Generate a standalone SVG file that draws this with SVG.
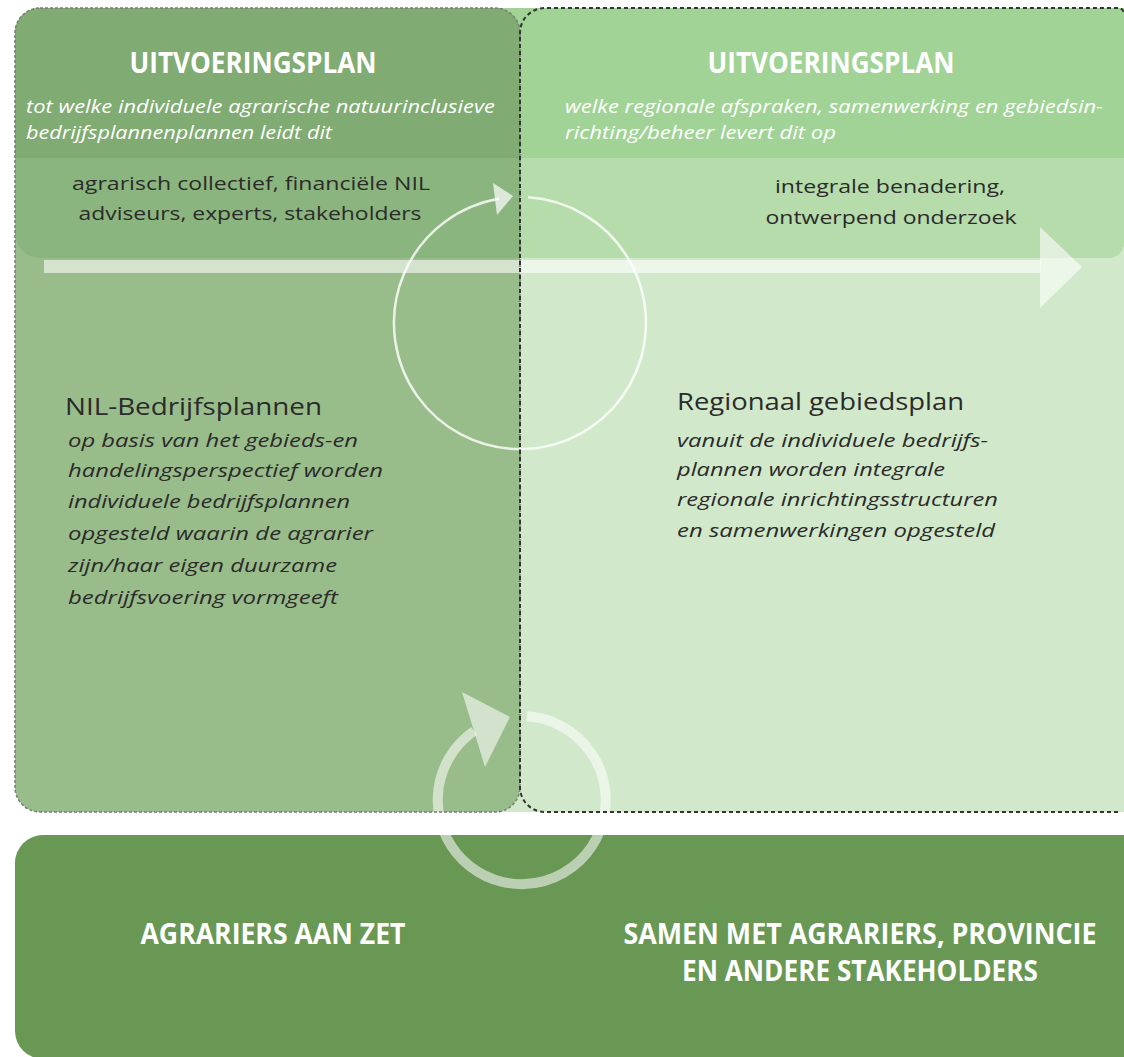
<svg xmlns="http://www.w3.org/2000/svg" width="1124" height="1057" viewBox="0 0 1124 1057">
  <defs>
    <style>
      .hdr { font-family: "Open Sans", "Liberation Sans", sans-serif; font-weight: 700; font-size: 29px; fill: #ffffff; }
      .sub { font-family: "Open Sans", "Liberation Sans", sans-serif; font-style: italic; font-size: 18px; fill: #ffffff; }
      .who { font-family: "Open Sans", "Liberation Sans", sans-serif; font-size: 18px; fill: #2b2b2b; }
      .ttl { font-family: "Open Sans", "Liberation Sans", sans-serif; font-size: 24px; fill: #2b2b2b; }
      .body { font-family: "Open Sans", "Liberation Sans", sans-serif; font-style: italic; font-size: 18px; fill: #2b2b2b; }
      .foot { font-family: "Open Sans", "Liberation Sans", sans-serif; font-weight: 700; font-size: 28px; fill: #ffffff; }
    </style>
    <clipPath id="leftClip">
      <path d="M40,8 H495 A25,25 0 0 1 520,33 V787 A25,25 0 0 1 495,812 H40 A25,25 0 0 1 15,787 V33 A25,25 0 0 1 40,8 Z"/>
    </clipPath>
    <clipPath id="gapClip">
      <rect x="0" y="0" width="1124" height="813"/>
      <rect x="0" y="835" width="1124" height="222"/>
    </clipPath>
  </defs>

  <!-- Right panel (regional) -->
  <g id="node-right-panel">
    <rect x="480" y="8" width="644" height="804" fill="#d1e9ca"/>
    <path d="M480,8 H1124 V243 A15,15 0 0 1 1109,258 H480 Z" fill="#b6dcab"/>
    <rect x="480" y="8" width="644" height="150" fill="#a1d396"/>
  </g>

  <!-- Left panel (individual) -->
  <g id="node-left-panel" clip-path="url(#leftClip)">
    <rect x="15" y="8" width="505" height="804" fill="#99bd8a"/>
    <path d="M15,8 H520 V258 H40 A25,25 0 0 1 15,233 Z" fill="#8bb57e"/>
    <rect x="15" y="8" width="505" height="150" fill="#80ab72"/>
  </g>

  <!-- Bottom box -->
  <g id="node-bottom">
    <rect x="15" y="835" width="1140" height="224" rx="28" fill="#699754"/>
  </g>

  <!-- Connectors -->
  <g id="connectors">
    <g id="flow-arrow" fill="#ffffff" fill-opacity="0.58">
      <rect x="44" y="260" width="997" height="13"/>
      <polygon points="1040,227 1082,267 1040,308"/>
    </g>
    <g id="cycle-top">
      <path d="M528,197.3 A126,126 0 1 1 499,198.8" fill="none" stroke="#ffffff" stroke-opacity="0.8" stroke-width="2.5"/>
      <polygon points="493,183 513,196 497,215" fill="#ffffff" fill-opacity="0.7"/>
    </g>
    <g id="cycle-bottom" clip-path="url(#gapClip)">
      <path d="M527,716.3 A84,84 0 1 1 474,731" fill="none" stroke="#ffffff" stroke-opacity="0.55" stroke-width="10"/>
      <polygon points="462,692 510,717 485,767" fill="#ffffff" fill-opacity="0.57"/>
    </g>
  </g>

  <!-- Dashed borders -->
  <g id="borders" fill="none">
    <path d="M40,8 H495 A25,25 0 0 1 520,33 V787 A25,25 0 0 1 495,812 H40 A25,25 0 0 1 15,787 V33 A25,25 0 0 1 40,8 Z" stroke="#7a7a7a" stroke-width="1.5" stroke-dasharray="3 2"/>
    <path d="M1118,812 H545 A25,25 0 0 1 520,787 V33 A25,25 0 0 1 545,8 H1118 A6,6 0 0 1 1124,14" stroke="#333333" stroke-width="2" stroke-dasharray="4 3"/>
  </g>

  <!-- Texts left -->
  <g id="text-left">
    <text class="hdr" x="253" y="73" text-anchor="middle" textLength="247" lengthAdjust="spacingAndGlyphs">UITVOERINGSPLAN</text>
    <text class="sub" x="26" y="113" textLength="469" lengthAdjust="spacingAndGlyphs">tot welke individuele agrarische natuurinclusieve</text>
    <text class="sub" x="26" y="139" textLength="306" lengthAdjust="spacingAndGlyphs">bedrijfsplannenplannen leidt dit</text>
    <text class="who" x="251" y="190" text-anchor="middle" textLength="358" lengthAdjust="spacingAndGlyphs">agrarisch collectief, financiële NIL</text>
    <text class="who" x="250" y="220" text-anchor="middle" textLength="343" lengthAdjust="spacingAndGlyphs">adviseurs, experts, stakeholders</text>
    <text class="ttl" x="65" y="415" textLength="257" lengthAdjust="spacingAndGlyphs">NIL-Bedrijfsplannen</text>
    <text class="body" x="68" y="447" textLength="290" lengthAdjust="spacingAndGlyphs">op basis van het gebieds-en</text>
    <text class="body" x="68" y="477" textLength="315" lengthAdjust="spacingAndGlyphs">handelingsperspectief worden</text>
    <text class="body" x="68" y="508" textLength="282" lengthAdjust="spacingAndGlyphs">individuele bedrijfsplannen</text>
    <text class="body" x="68" y="540" textLength="305" lengthAdjust="spacingAndGlyphs">opgesteld waarin de agrarier</text>
    <text class="body" x="68" y="572" textLength="269" lengthAdjust="spacingAndGlyphs">zijn/haar eigen duurzame</text>
    <text class="body" x="68" y="604" textLength="270" lengthAdjust="spacingAndGlyphs">bedrijfsvoering vormgeeft</text>
  </g>

  <!-- Texts right -->
  <g id="text-right">
    <text class="hdr" x="831" y="73" text-anchor="middle" textLength="247" lengthAdjust="spacingAndGlyphs">UITVOERINGSPLAN</text>
    <text class="sub" x="565" y="113" textLength="538" lengthAdjust="spacingAndGlyphs">welke regionale afspraken, samenwerking en gebiedsin-</text>
    <text class="sub" x="565" y="139" textLength="271" lengthAdjust="spacingAndGlyphs">richting/beheer levert dit op</text>
    <text class="who" x="890" y="193" text-anchor="middle" textLength="230" lengthAdjust="spacingAndGlyphs">integrale benadering,</text>
    <text class="who" x="891" y="224" text-anchor="middle" textLength="251" lengthAdjust="spacingAndGlyphs">ontwerpend onderzoek</text>
    <text class="ttl" x="677" y="410" textLength="287" lengthAdjust="spacingAndGlyphs">Regionaal gebiedsplan</text>
    <text class="body" x="677" y="447" textLength="311" lengthAdjust="spacingAndGlyphs">vanuit de individuele bedrijfs-</text>
    <text class="body" x="677" y="476" textLength="268" lengthAdjust="spacingAndGlyphs">plannen worden integrale</text>
    <text class="body" x="677" y="506" textLength="321" lengthAdjust="spacingAndGlyphs">regionale inrichtingsstructuren</text>
    <text class="body" x="677" y="537" textLength="318" lengthAdjust="spacingAndGlyphs">en samenwerkingen opgesteld</text>
  </g>

  <!-- Texts bottom -->
  <g id="text-bottom">
    <text class="foot" x="273" y="944" text-anchor="middle" textLength="265" lengthAdjust="spacingAndGlyphs">AGRARIERS AAN ZET</text>
    <text class="foot" x="860" y="944" text-anchor="middle" textLength="473" lengthAdjust="spacingAndGlyphs">SAMEN MET AGRARIERS, PROVINCIE</text>
    <text class="foot" x="860" y="981" text-anchor="middle" textLength="356" lengthAdjust="spacingAndGlyphs">EN ANDERE STAKEHOLDERS</text>
  </g>
</svg>
